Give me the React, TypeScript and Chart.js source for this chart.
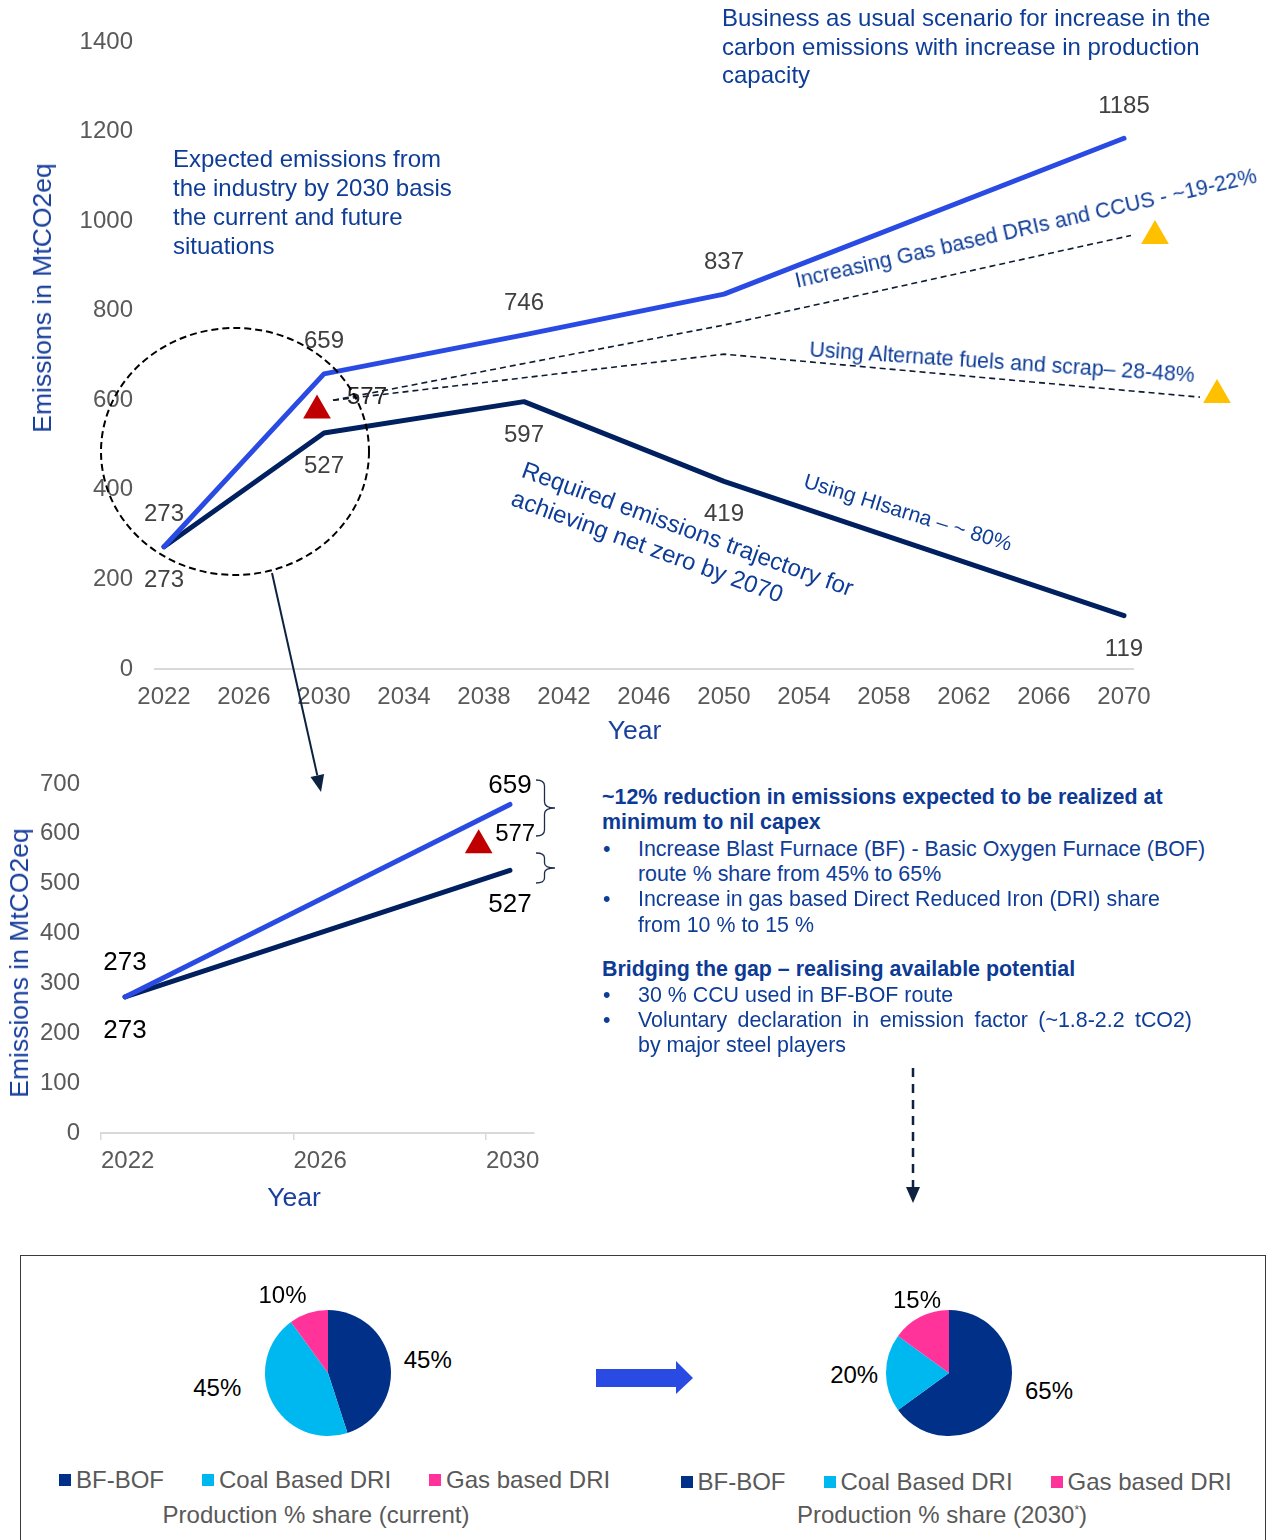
import React, { useEffect, useRef } from "react";
import { Chart, registerables } from "chart.js";

Chart.register(...registerables);
Chart.defaults.font.family = "'Liberation Sans', Arial, sans-serif";

// ---- Long-range emission trajectories (MtCO2eq) ----
const milestoneYears = [2022, 2030, 2040, 2050, 2070];
const businessAsUsual = [273, 659, 746, 837, 1185];
const netZeroPath = [273, 527, 597, 419, 119];

// Mitigation lever paths
const gasDriCcusYears = [2030.45, 2050, 2070.35];
const gasDriCcusValues = [600, 768, 968];
const altFuelsYears = [2030.45, 2050, 2073.8];
const altFuelsValues = [600, 703, 607];

// 2030 target marker and lever end markers
const targetYear = [2029.65];
const targetValue = [577];
const leverEndYears = [2071.55, 2074.65];
const leverEndValues = [967, 612];

const longYearTicks = [2022, 2026, 2030, 2034, 2038, 2042, 2046, 2050, 2054, 2058, 2062, 2066, 2070];
const longEmissionTicks = [0, 200, 400, 600, 800, 1000, 1200, 1400];

// ---- Near-term view 2022-2030 ----
const nearYears = [2022, 2030];
const nearBusinessAsUsual = [273, 659];
const nearNetZero = [273, 527];
const nearTargetYear = [2029.35];
const nearTargetValue = [577];
const nearYearTicks = [2022, 2026, 2030];
const nearEmissionTicks = [0, 100, 200, 300, 400, 500, 600, 700];

// ---- Production route shares (%) ----
const routes = ["BF-BOF", "Coal Based DRI", "Gas based DRI"];
const shareCurrent = [45, 45, 10];
const share2030 = [65, 20, 15];
const routeColors = ["#003087", "#00b8f0", "#ff3399"];

const BLUE = "#2a4be3";
const NAVY = "#002060";
const TEXT_BLUE = "#0e3d98";
const TITLE_BLUE = "#1a409e";
const GREY = "#595959";
const FONT = "'Liberation Sans', Arial, sans-serif";
const NOTE = 21.4;

const pts = (xs: number[], ys: number[]) => xs.map((x, i) => ({ x, y: ys[i] }));

// Draws each point's value next to it, using per-dataset label settings
const valueLabelPlugin = {
  id: "valueLabels",
  afterDatasetsDraw(chart: any) {
    const ctx = chart.ctx;
    chart.data.datasets.forEach((ds: any, i: number) => {
      const cfg = ds.valueLabels;
      if (!cfg) return;
      const meta = chart.getDatasetMeta(i);
      meta.data.forEach((el: any, j: number) => {
        const raw = ds.data[j];
        const v = typeof raw === "number" ? raw : raw.y;
        const dy = Array.isArray(cfg.dy) ? cfg.dy[j] : cfg.dy || 0;
        const dx = Array.isArray(cfg.dx) ? cfg.dx[j] : cfg.dx || 0;
        ctx.save();
        ctx.font = `${cfg.size}px ${FONT}`;
        ctx.fillStyle = cfg.color;
        ctx.textAlign = cfg.align || "center";
        ctx.textBaseline = "middle";
        ctx.fillText(String(v), el.x + dx, el.y + dy);
        ctx.restore();
      });
    });
  },
};

// Light horizontal baseline at zero spanning the year range
const baselinePlugin = {
  id: "zeroBaseline",
  beforeDatasetsDraw(chart: any, _args: any, opts: any) {
    if (!opts || opts.from === undefined) return;
    const { ctx, scales } = chart;
    const y = scales.y.getPixelForValue(0);
    ctx.save();
    ctx.strokeStyle = "#d9d9d9";
    ctx.lineWidth = 2;
    ctx.beginPath();
    ctx.moveTo(scales.x.getPixelForValue(opts.from), y);
    ctx.lineTo(scales.x.getPixelForValue(opts.to), y);
    ctx.stroke();
    ctx.restore();
  },
};

const tickFont = { size: 24 };

// fixed-width value axis without extra label padding above/below
const fixedYAxis = (width: number) => (s: any) => {
  s.width = width;
  s.paddingTop = 0;
  s.paddingBottom = 0;
};

function LongRangeChart() {
  const ref = useRef<HTMLCanvasElement>(null);
  useEffect(() => {
    const chart = new Chart(ref.current!, {
      type: "line",
      data: {
        datasets: [
          {
            data: pts(milestoneYears, businessAsUsual),
            borderColor: BLUE,
            borderWidth: 5,
            pointRadius: 0,
            borderCapStyle: "round",
            borderJoinStyle: "round",
            valueLabels: { dy: -32, color: "#404040", size: 24 },
          } as any,
          {
            data: pts(milestoneYears, netZeroPath),
            borderColor: NAVY,
            borderWidth: 5,
            pointRadius: 0,
            borderCapStyle: "round",
            borderJoinStyle: "round",
            valueLabels: { dy: 33.5, color: "#404040", size: 24 },
          } as any,
          {
            data: pts(targetYear, targetValue),
            showLine: false,
            pointStyle: "triangle",
            pointRadius: 16,
            pointBackgroundColor: "#c00000",
            pointBorderWidth: 0,
            valueLabels: { dx: 30, dy: -13.5, color: "#262626", size: 24, align: "left" },
          } as any,
          {
            data: pts(leverEndYears, leverEndValues),
            showLine: false,
            pointStyle: "triangle",
            pointRadius: 16,
            pointBackgroundColor: "#ffc000",
            pointBorderWidth: 0,
          },
          {
            data: pts(gasDriCcusYears, gasDriCcusValues),
            borderColor: "#0d1b33",
            borderWidth: 1.6,
            borderDash: [6, 4],
            pointRadius: 0,
          },
          {
            data: pts(altFuelsYears, altFuelsValues),
            borderColor: "#0d1b33",
            borderWidth: 1.6,
            borderDash: [6, 4],
            pointRadius: 0,
          },
        ],
      },
      options: {
        responsive: false,
        animation: false,
        events: [],
        layout: { padding: { top: 42, right: 31, bottom: 0, left: 0 } },
        plugins: {
          legend: { display: false },
          tooltip: { enabled: false },
          zeroBaseline: { from: 2021.5, to: 2070.5 },
        } as any,
        scales: {
          x: {
            type: "linear",
            min: 2021.5,
            max: 2076,
            afterBuildTicks: (s: any) => {
              s.ticks = longYearTicks.map((value) => ({ value }));
            },
            afterFit: (s: any) => {
              s.height = 91;
            },
            grid: { display: false, drawTicks: false },
            border: { display: false },
            ticks: {
              padding: 14,
              color: GREY,
              font: tickFont,
              autoSkip: false,
              maxRotation: 0,
              callback: (v: any) => String(v),
            },
          },
          y: {
            min: 0,
            max: 1400,
            afterBuildTicks: (s: any) => {
              s.ticks = longEmissionTicks.map((value) => ({ value }));
            },
            afterFit: fixedYAxis(154),
            grid: { display: false, drawTicks: false },
            border: { display: false },
            ticks: { padding: 21, color: GREY, font: tickFont, callback: (v: any) => String(v) },
          },
        },
      },
      plugins: [valueLabelPlugin, baselinePlugin],
    } as any);
    return () => chart.destroy();
  }, []);
  return (
    <canvas
      ref={ref}
      width={1275}
      height={760}
      style={{ position: "absolute", left: 0, top: 0, width: 1275, height: 760 }}
    />
  );
}

function NearTermChart() {
  const ref = useRef<HTMLCanvasElement>(null);
  useEffect(() => {
    const chart = new Chart(ref.current!, {
      type: "line",
      data: {
        datasets: [
          {
            data: pts(nearYears, nearBusinessAsUsual),
            borderColor: BLUE,
            borderWidth: 5,
            pointRadius: 0,
            borderCapStyle: "round",
            valueLabels: { dy: [-34, -18.5], color: "#000", size: 26 },
          } as any,
          {
            data: pts(nearYears, nearNetZero),
            borderColor: NAVY,
            borderWidth: 5,
            pointRadius: 0,
            borderCapStyle: "round",
            valueLabels: { dy: [34, 35], color: "#000", size: 26 },
          } as any,
          {
            data: pts(nearTargetYear, nearTargetValue),
            showLine: false,
            pointStyle: "triangle",
            pointRadius: 16,
            pointBackgroundColor: "#c00000",
            pointBorderWidth: 0,
            valueLabels: { dx: 16.5, dy: -10.5, color: "#000", size: 24, align: "left" },
          } as any,
        ],
      },
      options: {
        responsive: false,
        animation: false,
        events: [],
        layout: { padding: { top: 24, right: 26, bottom: 0, left: 0 } },
        plugins: { legend: { display: false }, tooltip: { enabled: false } },
        scales: {
          x: {
            type: "linear",
            min: 2021.5,
            max: 2030.5,
            afterBuildTicks: (s: any) => {
              // tick marks sit half a year ahead of each labelled year
              s.ticks = nearYearTicks.map((y) => ({ value: y - 0.5 }));
            },
            afterFit: (s: any) => {
              s.height = 107;
            },
            grid: {
              display: true,
              drawOnChartArea: false,
              drawTicks: true,
              tickLength: 7,
              color: "#d9d9d9",
              lineWidth: 1.5,
            },
            border: { display: true, color: "#d9d9d9", width: 2 },
            ticks: {
              padding: 7,
              align: "start",
              color: GREY,
              font: tickFont,
              autoSkip: false,
              maxRotation: 0,
              callback: (v: any) => String(Math.round(Number(v) + 0.5)),
            },
          },
          y: {
            min: 0,
            max: 700,
            afterBuildTicks: (s: any) => {
              s.ticks = nearEmissionTicks.map((value) => ({ value }));
            },
            afterFit: fixedYAxis(101),
            grid: { display: false, drawTicks: false },
            border: { display: false },
            ticks: { padding: 21, color: GREY, font: tickFont, callback: (v: any) => String(v) },
          },
        },
      },
      plugins: [valueLabelPlugin],
    } as any);
    return () => chart.destroy();
  }, []);
  return (
    <canvas
      ref={ref}
      width={560}
      height={480}
      style={{ position: "absolute", left: 0, top: 760, width: 560, height: 480 }}
    />
  );
}

function SharePie({ values, cx, cy }: { values: number[]; cx: number; cy: number }) {
  const ref = useRef<HTMLCanvasElement>(null);
  useEffect(() => {
    const chart = new Chart(ref.current!, {
      type: "pie",
      data: {
        labels: routes,
        datasets: [{ data: values, backgroundColor: routeColors, borderWidth: 0 }],
      },
      options: {
        responsive: false,
        animation: false,
        events: [],
        layout: { padding: 7 },
        plugins: { legend: { display: false }, tooltip: { enabled: false } },
      },
    });
    return () => chart.destroy();
  }, [values]);
  return (
    <canvas
      ref={ref}
      width={140}
      height={140}
      style={{ position: "absolute", left: cx - 70, top: cy - 70, width: 140, height: 140 }}
    />
  );
}

type TextProps = {
  x: number;
  y: number;
  size: number;
  color?: string;
  bold?: boolean;
  lh?: number;
  style?: React.CSSProperties;
  children: React.ReactNode;
};

function Txt({ x, y, size, color = TEXT_BLUE, bold, lh, style, children }: TextProps) {
  return (
    <div
      style={{
        position: "absolute",
        left: x,
        top: y,
        fontSize: size,
        lineHeight: `${lh ?? size * 1.2}px`,
        color,
        fontWeight: bold ? 700 : 400,
        whiteSpace: "nowrap",
        ...style,
      }}
    >
      {children}
    </div>
  );
}

// Text centred on a point and turned by an angle
function Turned({ x, y, deg, size, lh, children, color = TEXT_BLUE }: any) {
  return (
    <div
      style={{
        position: "absolute",
        left: x,
        top: y,
        fontSize: size,
        lineHeight: `${lh ?? size * 1.2}px`,
        color,
        whiteSpace: "nowrap",
        transform: `translate(-50%, -50%) rotate(${deg}deg)`,
      }}
    >
      {children}
    </div>
  );
}

function Bullet({ y, children, style }: { y: number; children: React.ReactNode; style?: React.CSSProperties }) {
  return (
    <>
      <Txt x={603} y={y} size={NOTE} lh={25}>
        •
      </Txt>
      <Txt x={638} y={y} size={NOTE} lh={25} style={style}>
        {children}
      </Txt>
    </>
  );
}

function Legend({ x, y }: { x: number; y: number }) {
  return (
    <div
      style={{
        position: "absolute",
        left: x,
        top: y,
        height: 28,
        display: "flex",
        alignItems: "center",
        fontSize: 24,
        lineHeight: "28px",
        color: GREY,
        whiteSpace: "nowrap",
      }}
    >
      {routes.map((r, i) => (
        <div key={r} style={{ display: "flex", alignItems: "center", marginRight: 38 }}>
          <span style={{ width: 12, height: 12, background: routeColors[i], marginRight: 5, display: "inline-block" }} />
          <span>{r}</span>
        </div>
      ))}
    </div>
  );
}

// percentage label: x is the centre, baseline gives the text baseline
function Pct({ x, baseline, value }: { x: number; baseline: number; value: number }) {
  return (
    <div
      style={{
        position: "absolute",
        left: x,
        top: baseline - 22.3,
        fontSize: 24,
        lineHeight: "28px",
        color: "#000",
        transform: "translateX(-50%)",
        whiteSpace: "nowrap",
      }}
    >
      {value}%
    </div>
  );
}

export default function App() {
  useEffect(() => {
    document.body.style.margin = "0";
  }, []);
  return (
    <div
      style={{
        position: "absolute",
        left: 0,
        top: 0,
        width: 1275,
        height: 1540,
        overflow: "hidden",
        background: "#fff",
        fontFamily: FONT,
      }}
    >
      <LongRangeChart />
      <NearTermChart />

      {/* axis titles */}
      <Turned x={42} y={298} deg={-90} size={26.5} lh={30} color={TITLE_BLUE}>
        Emissions in MtCO2eq
      </Turned>
      <Turned x={634.5} y={730} deg={0} size={26.5} lh={30} color={TITLE_BLUE}>
        Year
      </Turned>
      <Turned x={18.5} y={962.5} deg={-90} size={26.5} lh={30} color={TITLE_BLUE}>
        Emissions in MtCO2eq
      </Turned>
      <Turned x={294} y={1197} deg={0} size={26.5} lh={30} color={TITLE_BLUE}>
        Year
      </Turned>

      {/* notes on the long-range chart */}
      <Txt x={173} y={144} size={24} lh={29}>
        Expected emissions from
        <br />
        the industry by 2030 basis
        <br />
        the current and future
        <br />
        situations
      </Txt>
      <Txt x={722} y={4} size={24} lh={28.5}>
        Business as usual scenario for increase in the
        <br />
        carbon emissions with increase in production
        <br />
        capacity
      </Txt>
      <Turned x={1026} y={229} deg={-12.9} size={21.3}>
        Increasing Gas based DRIs and CCUS - ~19-22%
      </Turned>
      <Turned x={1002} y={363} deg={3.8} size={21.3}>
        Using Alternate fuels and scrap– 28-48%
      </Turned>
      <Turned x={908} y={512} deg={17.2} size={21}>
        Using HIsarna – ~ 80%
      </Turned>
      <div
        style={{
          position: "absolute",
          left: 528,
          top: 455,
          fontSize: 24,
          lineHeight: "29.5px",
          color: TEXT_BLUE,
          whiteSpace: "nowrap",
          transformOrigin: "0 0",
          transform: "rotate(20deg)",
        }}
      >
        Required emissions trajectory for
        <br />
        achieving net zero by 2070
      </div>

      {/* levers text */}
      <Txt x={602} y={785} size={NOTE} lh={25} bold color="#0c3a94">
        ~12% reduction in emissions expected to be realized at
      </Txt>
      <Txt x={602} y={810} size={NOTE} lh={25} bold color="#0c3a94">
        minimum to nil capex
      </Txt>
      <Bullet y={837}>Increase Blast Furnace (BF) - Basic Oxygen Furnace (BOF)</Bullet>
      <Txt x={638} y={862} size={NOTE} lh={25}>
        route % share from 45% to 65%
      </Txt>
      <Bullet y={887}>Increase in gas based Direct Reduced Iron (DRI) share</Bullet>
      <Txt x={638} y={912.7} size={NOTE} lh={25}>
        from 10 % to 15 %
      </Txt>
      <Txt x={602} y={957} size={NOTE} lh={25} bold color="#0c3a94">
        Bridging the gap – realising available potential
      </Txt>
      <Bullet y={983}>30 % CCU used in BF-BOF route</Bullet>
      <Bullet
        y={1008}
        style={{ width: 554, textAlign: "justify", textAlignLast: "justify", whiteSpace: "normal" } as any}
      >
        Voluntary declaration in emission factor (~1.8-2.2 tCO2)
      </Bullet>
      <Txt x={638} y={1033} size={NOTE} lh={25}>
        by major steel players
      </Txt>

      {/* production share panel */}
      <div
        style={{
          position: "absolute",
          left: 20,
          top: 1255,
          width: 1246,
          height: 320,
          border: "1.5px solid #3a3a3a",
          boxSizing: "border-box",
        }}
      />
      <SharePie values={shareCurrent} cx={328} cy={1373} />
      <SharePie values={share2030} cx={949} cy={1372.6} />

      <Pct x={427.8} baseline={1368.3} value={shareCurrent[0]} />
      <Pct x={217.3} baseline={1396.7} value={shareCurrent[1]} />
      <Pct x={282.5} baseline={1303.3} value={shareCurrent[2]} />
      <Pct x={1049} baseline={1399} value={share2030[0]} />
      <Pct x={854.2} baseline={1383.3} value={share2030[1]} />
      <Pct x={917} baseline={1308.3} value={share2030[2]} />

      <Legend x={59} y={1466} />
      <Legend x={680.5} y={1468} />
      <Txt x={316} y={1501} size={24} lh={28} color={GREY} style={{ transform: "translateX(-50%)" }}>
        Production % share (current)
      </Txt>
      <Txt x={942} y={1501} size={24} lh={28} color={GREY} style={{ transform: "translateX(-50%)" }}>
        Production % share (2030
        <sup style={{ fontSize: 12, lineHeight: 0 }}>*</sup>)
      </Txt>

      {/* connectors, callouts and arrows */}
      <svg
        width={1275}
        height={1540}
        style={{ position: "absolute", left: 0, top: 0, pointerEvents: "none" }}
      >
        <ellipse cx={235} cy={451.5} rx={134} ry={123.5} fill="none" stroke="#000" strokeWidth={2} strokeDasharray="7 4" />
        <line x1={272} y1={573} x2={317.3} y2={775.4} stroke="#0d2240" strokeWidth={2} />
        <polygon points="321,792 324.1,773.9 310.5,776.9" fill="#0d2240" />

        <path
          d="M536 780 Q544.5 780 544.5 786 L544.5 802 Q544.5 808 555 808 Q544.5 808 544.5 814 L544.5 830 Q544.5 836 536 836"
          fill="none"
          stroke="#1f2d4d"
          strokeWidth={1.3}
        />
        <path
          d="M536 853 Q544.5 853 544.5 858 L544.5 863 Q544.5 868 555 868 Q544.5 868 544.5 873 L544.5 878 Q544.5 883 536 883"
          fill="none"
          stroke="#1f2d4d"
          strokeWidth={1.3}
        />

        <line x1={913} y1={1068} x2={913} y2={1188} stroke="#0d2240" strokeWidth={2.5} strokeDasharray="9 7" />
        <polygon points="906,1187 920,1187 913,1203" fill="#0d2240" />

        <polygon points="596,1369 676,1369 676,1361 693,1378 676,1394 676,1387 596,1387" fill={BLUE} />
      </svg>
    </div>
  );
}
